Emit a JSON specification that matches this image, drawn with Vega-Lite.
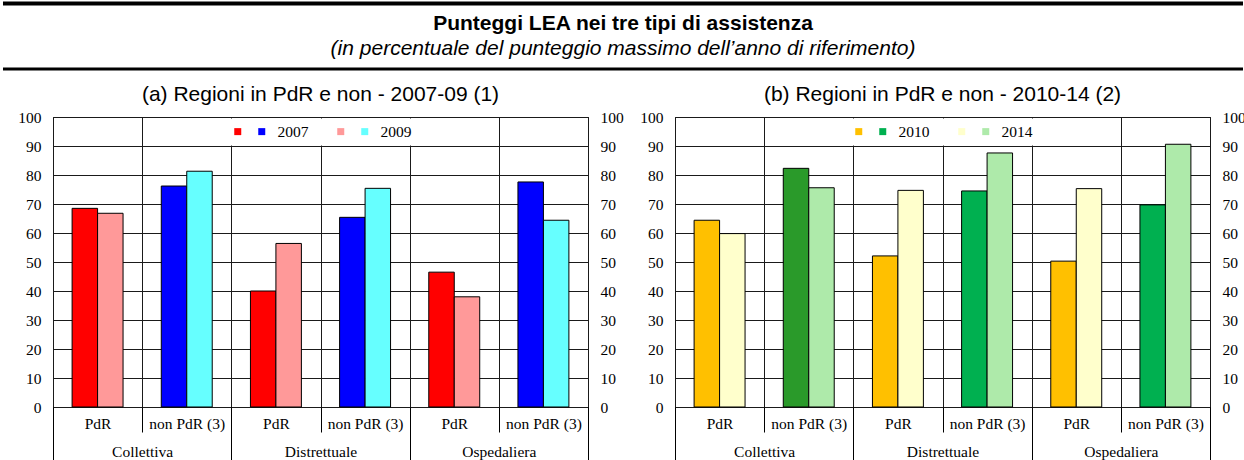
{
  "$schema": "https://vega.github.io/schema/vega-lite/v6.json",
  "padding": 0,
  "background": "white",
  "config": {
    "view": {"stroke": "#000", "strokeWidth": 1},
    "font": "Liberation Sans",
    "axis": {"labelFont": "Liberation Serif", "labelFontSize": 15.5, "labelColor": "#000", "tickColor": "#000", "tickWidth": 1, "gridColor": "#1a1a1a", "gridOpacity": 1, "gridWidth": 1, "title": null}
  },
  "data": {"values": [
    {"panel": "a", "group": "Collettiva", "col": "Collettiva|PdR", "year": "2007", "key": "PdR 2007", "value": 68.5},
    {"panel": "a", "group": "Collettiva", "col": "Collettiva|PdR", "year": "2009", "key": "PdR 2009", "value": 66.8},
    {"panel": "a", "group": "Collettiva", "col": "Collettiva|non PdR (3)", "year": "2007", "key": "non PdR 2007", "value": 76.2},
    {"panel": "a", "group": "Collettiva", "col": "Collettiva|non PdR (3)", "year": "2009", "key": "non PdR 2009", "value": 81.3},
    {"panel": "a", "group": "Distrettuale", "col": "Distrettuale|PdR", "year": "2007", "key": "PdR 2007", "value": 40.0},
    {"panel": "a", "group": "Distrettuale", "col": "Distrettuale|PdR", "year": "2009", "key": "PdR 2009", "value": 56.4},
    {"panel": "a", "group": "Distrettuale", "col": "Distrettuale|non PdR (3)", "year": "2007", "key": "non PdR 2007", "value": 65.4},
    {"panel": "a", "group": "Distrettuale", "col": "Distrettuale|non PdR (3)", "year": "2009", "key": "non PdR 2009", "value": 75.4},
    {"panel": "a", "group": "Ospedaliera", "col": "Ospedaliera|PdR", "year": "2007", "key": "PdR 2007", "value": 46.5},
    {"panel": "a", "group": "Ospedaliera", "col": "Ospedaliera|PdR", "year": "2009", "key": "PdR 2009", "value": 38.0},
    {"panel": "a", "group": "Ospedaliera", "col": "Ospedaliera|non PdR (3)", "year": "2007", "key": "non PdR 2007", "value": 77.6},
    {"panel": "a", "group": "Ospedaliera", "col": "Ospedaliera|non PdR (3)", "year": "2009", "key": "non PdR 2009", "value": 64.4},
    {"panel": "b", "group": "Collettiva", "col": "Collettiva|PdR", "year": "2010", "key": "PdR 2010", "value": 64.4},
    {"panel": "b", "group": "Collettiva", "col": "Collettiva|PdR", "year": "2014", "key": "PdR 2014", "value": 59.8},
    {"panel": "b", "group": "Collettiva", "col": "Collettiva|non PdR (3)", "year": "2010", "key": "non PdR 2010", "value": 82.3},
    {"panel": "b", "group": "Collettiva", "col": "Collettiva|non PdR (3)", "year": "2014", "key": "non PdR 2014", "value": 75.6},
    {"panel": "b", "group": "Distrettuale", "col": "Distrettuale|PdR", "year": "2010", "key": "PdR 2010", "value": 52.1},
    {"panel": "b", "group": "Distrettuale", "col": "Distrettuale|PdR", "year": "2014", "key": "PdR 2014", "value": 74.7},
    {"panel": "b", "group": "Distrettuale", "col": "Distrettuale|non PdR (3)", "year": "2010", "key": "non PdR 2010", "value": 74.5},
    {"panel": "b", "group": "Distrettuale", "col": "Distrettuale|non PdR (3)", "year": "2014", "key": "non PdR 2014", "value": 87.6},
    {"panel": "b", "group": "Ospedaliera", "col": "Ospedaliera|PdR", "year": "2010", "key": "PdR 2010", "value": 50.3},
    {"panel": "b", "group": "Ospedaliera", "col": "Ospedaliera|PdR", "year": "2014", "key": "PdR 2014", "value": 75.3},
    {"panel": "b", "group": "Ospedaliera", "col": "Ospedaliera|non PdR (3)", "year": "2010", "key": "non PdR 2010", "value": 69.7},
    {"panel": "b", "group": "Ospedaliera", "col": "Ospedaliera|non PdR (3)", "year": "2014", "key": "non PdR 2014", "value": 90.6}
  ]},
  "spacing": 8,
  "vconcat": [
    {
      "width": 1192,
      "height": 75,
      "data": {"values": [{}]},
      "view": {"stroke": null},
      "layer": [
        {"mark": {"type": "rule", "strokeWidth": 4, "color": "#000"},
         "encoding": {"x": {"datum": -0.04195, "type": "quantitative", "scale": {"domain": [0, 1], "nice": false, "zero": false}, "axis": null},
                      "x2": {"datum": 0.99832},
                      "y": {"datum": 0.953, "type": "quantitative", "scale": {"domain": [0, 1], "nice": false, "zero": false}, "axis": null}}},
        {"mark": {"type": "rule", "strokeWidth": 3, "color": "#000"},
         "encoding": {"x": {"datum": -0.04195, "type": "quantitative"},
                      "x2": {"datum": 0.99832},
                      "y": {"datum": 0.08, "type": "quantitative"}}},
        {"mark": {"type": "text", "fontSize": 21, "fontWeight": "bold", "font": "Liberation Sans", "baseline": "middle", "align": "center", "color": "#000"},
         "encoding": {"x": {"datum": 0.4782, "type": "quantitative"},
                      "y": {"datum": 0.68, "type": "quantitative"},
                      "text": {"value": "Punteggi LEA nei tre tipi di assistenza"}}},
        {"mark": {"type": "text", "fontSize": 21, "fontStyle": "italic", "font": "Liberation Sans", "baseline": "middle", "align": "center", "color": "#000"},
         "encoding": {"x": {"datum": 0.4782, "type": "quantitative"},
                      "y": {"datum": 0.347, "type": "quantitative"},
                      "text": {"value": "(in percentuale del punteggio massimo dell’anno di riferimento)"}}}
      ]
    },
    {
      "spacing": 11,
      "resolve": {"scale": {"color": "independent", "xOffset": "independent"}, "legend": {"color": "independent"}},
      "hconcat": [
        {
          "width": 535,
          "height": 290,
          "title": {"text": "(a) Regioni in PdR e non - 2007-09 (1)", "fontSize": 21, "fontWeight": "normal", "font": "Liberation Sans", "anchor": "middle", "baseline": "middle", "offset": -6, "color": "#000"},
          "transform": [{"filter": "datum.panel == 'a'"}],
          "layer": [
            {
              "mark": {"type": "bar", "stroke": "#000", "strokeWidth": 1},
              "encoding": {
                "x": {"field": "col", "type": "nominal",
                      "sort": ["Collettiva|PdR", "Collettiva|non PdR (3)", "Distrettuale|PdR", "Distrettuale|non PdR (3)", "Ospedaliera|PdR", "Ospedaliera|non PdR (3)"],
                      "scale": {"paddingInner": 0, "paddingOuter": 0},
                      "axis": {"orient": "bottom", "labelExpr": "split(datum.value, '|')[1]", "labelAngle": 0, "tickBand": "extent", "tickSize": 25, "labelPadding": -16, "grid": true, "domain": false}},
                "xOffset": {"field": "year", "type": "nominal", "scale": {"paddingInner": 0, "paddingOuter": 0.75}},
                "y": {"field": "value", "type": "quantitative", "scale": {"domain": [0, 100], "nice": false},
                      "axis": {"values": [0, 10, 20, 30, 40, 50, 60, 70, 80, 90, 100], "ticks": false, "domain": false, "grid": true, "labelPadding": 12, "minExtent": 52, "maxExtent": 52}},
                "color": {"field": "key", "type": "nominal",
                          "scale": {"domain": ["PdR 2007", "non PdR 2007", "PdR 2009", "non PdR 2009"], "range": ["#ff0000", "#0000ff", "#ff9999", "#66ffff"]},
                          "legend": {"orient": "none", "legendX": 172, "legendY": 1.5, "direction": "horizontal", "columns": 4, "title": null,
                                     "labelExpr": "indexof(datum.label, 'non') == 0 ? substring(datum.label, 8) + '\u2800\u2800' : ''",
                                     "symbolType": "square", "symbolSize": 49, "symbolStrokeWidth": 0, "symbolOpacity": 1,
                                     "labelFont": "Liberation Serif", "labelFontSize": 15.5, "labelColor": "#000", "labelOffset": 8, "columnPadding": -5,
                                     "padding": 5, "fillColor": "#fff",
                                     "encode": {"symbols": {"update": {"fill": {"signal": "datum.value == 'PdR 2007' ? '#ff0000' : datum.value == 'non PdR 2007' ? '#0000ff' : datum.value == 'PdR 2009' ? '#ffcccc' : '#22ddee'"}}}}}}
              }
            },
            {
              "mark": {"type": "bar", "opacity": 0},
              "encoding": {
                "x": {"field": "group", "type": "nominal", "sort": ["Collettiva", "Distrettuale", "Ospedaliera"],
                      "scale": {"paddingInner": 0, "paddingOuter": 0},
                      "axis": {"orient": "bottom", "labelAngle": 0, "tickBand": "extent", "tickSize": 53, "labelPadding": -16, "grid": false, "domain": false}},
                "y": {"field": "value", "type": "quantitative", "stack": null, "scale": {"domain": [0, 100], "nice": false},
                      "axis": {"orient": "right", "values": [0, 10, 20, 30, 40, 50, 60, 70, 80, 90, 100], "ticks": false, "domain": false, "grid": false, "labelPadding": 12, "minExtent": 37, "maxExtent": 37}}
              }
            }
          ],
          "resolve": {"scale": {"x": "independent", "y": "independent"}}
        },
        {
          "width": 535,
          "height": 290,
          "title": {"text": "(b) Regioni in PdR e non - 2010-14 (2)", "fontSize": 21, "fontWeight": "normal", "font": "Liberation Sans", "anchor": "middle", "baseline": "middle", "offset": -6, "color": "#000"},
          "transform": [{"filter": "datum.panel == 'b'"}],
          "layer": [
            {
              "mark": {"type": "bar", "stroke": "#000", "strokeWidth": 1},
              "encoding": {
                "x": {"field": "col", "type": "nominal",
                      "sort": ["Collettiva|PdR", "Collettiva|non PdR (3)", "Distrettuale|PdR", "Distrettuale|non PdR (3)", "Ospedaliera|PdR", "Ospedaliera|non PdR (3)"],
                      "scale": {"paddingInner": 0, "paddingOuter": 0},
                      "axis": {"orient": "bottom", "labelExpr": "split(datum.value, '|')[1]", "labelAngle": 0, "tickBand": "extent", "tickSize": 25, "labelPadding": -16, "grid": true, "domain": false}},
                "xOffset": {"field": "year", "type": "nominal", "scale": {"paddingInner": 0, "paddingOuter": 0.75}},
                "y": {"field": "value", "type": "quantitative", "scale": {"domain": [0, 100], "nice": false},
                      "axis": {"values": [0, 10, 20, 30, 40, 50, 60, 70, 80, 90, 100], "ticks": false, "domain": false, "grid": true, "labelPadding": 12, "minExtent": 37, "maxExtent": 37}},
                "color": {"condition": {"test": "datum.group == 'Collettiva' && datum.key == 'non PdR 2010'", "value": "#2a9a2a"},
                          "field": "key", "type": "nominal",
                          "scale": {"domain": ["PdR 2010", "non PdR 2010", "PdR 2014", "non PdR 2014"], "range": ["#ffc000", "#00b050", "#ffffcc", "#aeeaaa"]},
                          "legend": {"orient": "none", "legendX": 171, "legendY": 1.5, "direction": "horizontal", "columns": 4, "title": null,
                                     "labelExpr": "indexof(datum.label, 'non') == 0 ? substring(datum.label, 8) + '\u2800\u2800' : ''",
                                     "symbolType": "square", "symbolSize": 49, "symbolStrokeWidth": 0, "symbolOpacity": 1,
                                     "labelFont": "Liberation Serif", "labelFontSize": 15.5, "labelColor": "#000", "labelOffset": 8, "columnPadding": -5,
                                     "padding": 5, "fillColor": "#fff"}}
              }
            },
            {
              "mark": {"type": "bar", "opacity": 0},
              "encoding": {
                "x": {"field": "group", "type": "nominal", "sort": ["Collettiva", "Distrettuale", "Ospedaliera"],
                      "scale": {"paddingInner": 0, "paddingOuter": 0},
                      "axis": {"orient": "bottom", "labelAngle": 0, "tickBand": "extent", "tickSize": 53, "labelPadding": -16, "grid": false, "domain": false}},
                "y": {"field": "value", "type": "quantitative", "stack": null, "scale": {"domain": [0, 100], "nice": false},
                      "axis": {"orient": "right", "values": [0, 10, 20, 30, 40, 50, 60, 70, 80, 90, 100], "ticks": false, "domain": false, "grid": false, "labelPadding": 12, "minExtent": 36, "maxExtent": 36}}
              }
            }
          ],
          "resolve": {"scale": {"x": "independent", "y": "independent"}}
        }
      ]
    }
  ]
}
